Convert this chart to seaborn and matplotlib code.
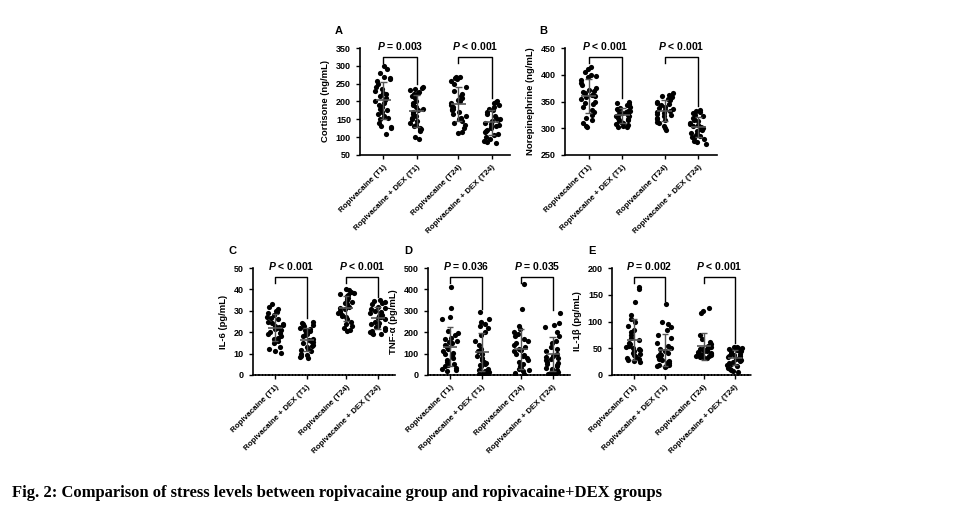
import numpy as np
import pandas as pd
import matplotlib
matplotlib.use("Agg")
import matplotlib.pyplot as plt
import seaborn as sns

plt.rcParams['font.family'] = 'Liberation Sans'
plt.rcParams['font.weight'] = 'bold'
plt.rcParams['mathtext.fontset'] = 'custom'
plt.rcParams['mathtext.it'] = 'Liberation Sans:italic:bold'
np.random.seed(3)

groups = ['Ropivacaine (T1)', 'Ropivacaine + DEX (T1)',
          'Ropivacaine (T24)', 'Ropivacaine + DEX (T24)']

cortisone_r1 = [300, 290, 280, 270, 265, 262, 258, 250, 240, 235, 230, 225, 220, 215, 210, 205, 200,
                195, 190, 185, 180, 175, 170, 165, 160, 155, 150, 140, 132, 128, 125, 110]
cortisone_d1 = [240, 238, 235, 232, 228, 225, 220, 215, 210, 200, 195, 190, 185, 180, 175, 170, 165,
                160, 155, 150, 145, 140, 135, 130, 125, 122, 120, 118, 100, 96]
cortisone_r24 = [270, 268, 265, 262, 258, 250, 240, 230, 222, 215, 210, 205, 200, 195, 190, 185, 180,
                 178, 175, 170, 165, 160, 155, 150, 145, 140, 135, 125, 115, 112]
cortisone_d24 = [200, 198, 195, 190, 185, 180, 175, 170, 165, 160, 155, 150, 148, 145, 140, 138, 135,
                 130, 128, 125, 120, 118, 115, 110, 105, 100, 95, 90, 86, 84]

norepi_r1 = [415, 410, 405, 400, 398, 395, 390, 385, 380, 375, 372, 370, 368, 365, 362, 360, 358, 355,
             350, 348, 345, 340, 335, 330, 325, 320, 315, 310, 305, 302]
norepi_d1 = [350, 348, 345, 343, 340, 338, 336, 335, 333, 332, 330, 328, 327, 325, 323, 322, 320, 318,
             316, 315, 313, 311, 310, 308, 306, 305, 303, 302]
norepi_r24 = [365, 362, 360, 358, 355, 352, 350, 348, 345, 343, 340, 338, 336, 335, 333, 330, 328, 326,
              325, 322, 320, 318, 315, 312, 310, 305, 300, 296]
norepi_d24 = [335, 332, 330, 328, 325, 322, 320, 318, 315, 313, 310, 308, 306, 305, 303, 300, 298, 296,
              294, 292, 290, 288, 286, 284, 282, 280, 277, 274, 271]

il6_r1 = [33, 32, 31, 30, 29.5, 29, 28, 27, 26.5, 26, 25, 24.5, 24, 23.5, 23, 22.5, 22, 21.5, 21, 20,
          19.5, 19, 18, 17.5, 17, 16, 15, 13, 12, 11, 10.5]
il6_d1 = [25, 24.5, 24, 23.5, 23, 22, 21.5, 21, 20.5, 20, 19, 18.5, 18, 17, 16.5, 16, 15.5, 15, 14,
          13.5, 13, 12, 11.5, 11, 10, 9.5, 9, 8.5, 8]
il6_r24 = [40, 39.5, 39, 38.5, 38, 37.5, 37, 36, 35.5, 35, 34, 33.5, 33, 32, 31.5, 31, 30, 29.5, 29,
           28, 27.5, 27, 26, 25, 24, 23, 22, 21, 20.5]
il6_d24 = [35, 34.5, 34, 33.5, 33, 32, 31.5, 31, 30, 29.5, 29, 28, 27.5, 27, 26.5, 26, 25, 24.5, 24,
           23, 22.5, 22, 21, 20.5, 20, 19.5, 19.2, 19]

tnf_r1 = [410, 315, 270, 260, 205, 195, 185, 175, 170, 160, 155, 150, 140, 130, 125, 120, 110, 105, 100,
          95, 90, 80, 70, 60, 50, 45, 40, 35, 30, 25, 18]
tnf_d1 = [295, 260, 250, 240, 230, 220, 200, 185, 160, 140, 120, 110, 100, 90, 80, 70, 60, 55, 50, 45,
          40, 30, 25, 20, 15, 10, 5, 3, 2]
tnf_r24 = [425, 310, 230, 215, 200, 190, 180, 170, 160, 150, 140, 130, 120, 115, 110, 100, 95, 90, 80,
           70, 60, 50, 40, 35, 30, 25, 20, 10, 5]
tnf_d24 = [290, 245, 235, 225, 200, 180, 160, 150, 130, 120, 110, 100, 90, 85, 80, 75, 70, 60, 55, 50,
           45, 40, 35, 30, 25, 20, 15, 10, 5, 3]

il1b_r1 = [165, 160, 137, 112, 105, 100, 92, 85, 80, 75, 70, 65, 60, 58, 55, 52, 50, 48, 46, 44, 42, 40,
           38, 36, 34, 32, 30, 28, 26, 24]
il1b_d1 = [132, 100, 95, 90, 85, 75, 70, 60, 55, 50, 48, 45, 42, 40, 38, 35, 33, 30, 28, 26, 24, 22,
           20, 19, 18, 17, 16, 15]
il1b_r24 = [126, 120, 116, 75, 68, 62, 58, 55, 52, 50, 49, 48, 47, 46, 45, 44, 43, 42, 41, 40, 39, 38,
            37, 36, 35, 34, 33, 32]
il1b_d24 = [53, 52, 51, 50, 49, 48, 47, 46, 45, 44, 42, 40, 38, 36, 35, 34, 32, 30, 28, 26, 24, 22, 20,
            18, 16, 14, 12, 10, 8, 5]

panels = [
    ('A', 'Cortisone (ng/mL)', [cortisone_r1, cortisone_d1, cortisone_r24, cortisone_d24],
     (50, 350, 50), ['= 0.003', '< 0.001'], True),
    ('B', 'Norepinephrine (ng/mL)', [norepi_r1, norepi_d1, norepi_r24, norepi_d24],
     (250, 450, 50), ['< 0.001', '< 0.001'], True),
    ('C', 'IL-6 (pg/mL)', [il6_r1, il6_d1, il6_r24, il6_d24],
     (0, 50, 10), ['< 0.001', '< 0.001'], False),
    ('D', 'TNF-α (pg/mL)', [tnf_r1, tnf_d1, tnf_r24, tnf_d24],
     (0, 500, 100), ['= 0.036', '= 0.035'], False),
    ('E', 'IL-1β (pg/mL)', [il1b_r1, il1b_d1, il1b_r24, il1b_d24],
     (0, 200, 50), ['= 0.002', '< 0.001'], False),
]

W, H = 977, 512
rects = [(360, 48, 150, 107), (565, 48, 152, 107),
         (253, 268, 142, 107), (428, 268, 142, 107), (612, 268, 140, 107)]

fig = plt.figure(figsize=(W / 100, H / 100), dpi=100)

for (label, ylab, data, (lo, hi, step), ptexts, solid), (x, y, w, h) in zip(panels, rects):
    ax = fig.add_axes([x / W, 1 - (y + h) / H, w / W, h / H])
    df = pd.DataFrame({'group': [g for g, vals in zip(groups, data) for _ in vals],
                       'value': [v for vals in data for v in vals]})
    order_x = {g: i + (0.25 if i >= 2 else 0) for i, g in enumerate(groups)}
    df['pos'] = df['group'].map(order_x)
    jit = (np.random.rand(len(df)) - 0.5) * 0.5
    sns.scatterplot(x=df['pos'] + jit, y=df['value'], ax=ax, color='black', s=14,
                    edgecolor='black', linewidth=0, legend=False)
    # 평균 ± SD
    for g, vals in zip(groups, data):
        m, sd = np.mean(vals), np.std(vals)
        p = order_x[g]
        ax.hlines(m, p - 0.22, p + 0.22, color='#555555', lw=1.2, zorder=5)
        ax.vlines(p, m - sd, m + sd, color='#555555', lw=1, zorder=5)
        ax.hlines([m - sd, m + sd], p - 0.1, p + 0.1, color='#555555', lw=1, zorder=5)
    # 유의성 브래킷
    rng = hi - lo
    for k, txt in enumerate(ptexts):
        p0, p1 = order_x[groups[2 * k]], order_x[groups[2 * k + 1]]
        top = hi - 0.08 * rng
        right_end = max(data[2 * k + 1]) + 0.03 * rng
        ax.plot([p0, p0, p1, p1], [top - 0.06 * rng, top, top, right_end],
                color='black', lw=1)
        ax.text((p0 + p1) / 2, top + 0.04 * rng, r'$\it{P}$ ' + txt, ha='center', va='bottom',
                fontsize=7.5, fontweight='bold')
    ax.set_ylim(lo, hi)
    ax.set_yticks(np.arange(lo, hi + 1, step))
    ax.set_xlim(-0.7, 3.8)
    ax.set_xticks(list(order_x.values()))
    ax.set_xticklabels(groups, rotation=45, ha='right', rotation_mode='anchor', fontsize=5.8)
    ax.tick_params(axis='y', labelsize=6.5, length=3, width=1)
    ax.tick_params(axis='x', length=3, width=1)
    ax.set_ylabel(ylab, fontsize=6.8, fontweight='bold')
    ax.set_xlabel('')
    sns.despine(ax=ax)
    for s in ['left', 'bottom']:
        ax.spines[s].set_linewidth(1.2)
    if not solid:
        ax.spines['bottom'].set_linestyle((0, (1.2, 0.8)))
    ax.text(-0.17, 1.13, label, transform=ax.transAxes, fontsize=8, fontweight='bold')

fig.text(12 / W, 1 - 493 / H, 'Fig. 2: Comparison of stress levels between ropivacaine group and ropivacaine+DEX groups',
         family='Liberation Serif', fontweight='bold', fontsize=12, va='center')

fig.savefig('out.png', dpi=100, facecolor='white')
